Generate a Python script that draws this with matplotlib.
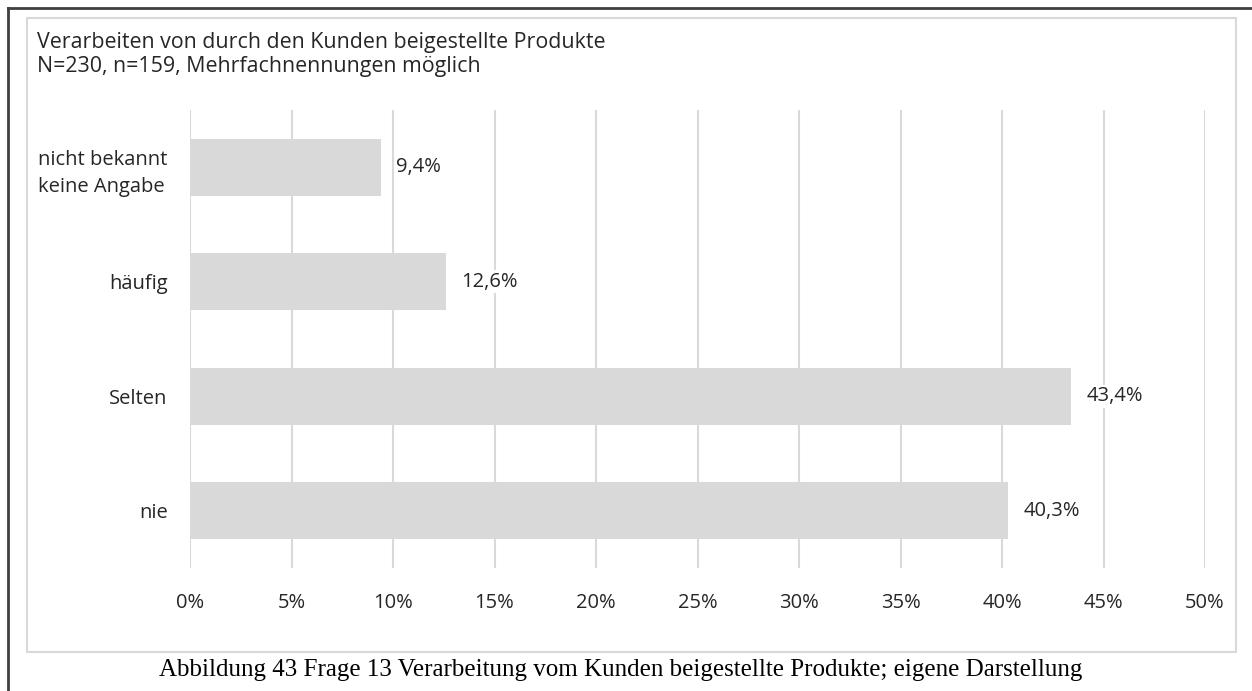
import matplotlib.pyplot as plt
from matplotlib.patches import Rectangle
from matplotlib.lines import Line2D
from matplotlib.ticker import MultipleLocator, FuncFormatter

# Antworten (von oben nach unten)
categories = ["nicht bekannt\nkeine Angabe", "häufig", "Selten", "nie"]
values = [9.4, 12.6, 43.4, 40.3]

title = "Verarbeiten von durch den Kunden beigestellte Produkte\nN=230, n=159, Mehrfachnennungen möglich"
caption = "Abbildung 43 Frage 13 Verarbeitung vom Kunden beigestellte Produkte; eigene Darstellung"

FONT = "Open Sans"
TXT = "#262626"

W, H = 1252, 691
fig = plt.figure(figsize=(W / 100, H / 100), dpi=100)
fig.patch.set_facecolor("white")

# Rahmen außen (Seite) und Diagrammrahmen
fig.add_artist(Line2D([8 / W, 8 / W], [0, 1 - 8 / H], color="#404040", lw=2))
fig.add_artist(Line2D([8 / W, 1], [1 - 8 / H, 1 - 8 / H], color="#404040", lw=2))
fig.add_artist(Rectangle((27 / W, 1 - 652 / H), (1236 - 27) / W, (652 - 18) / H,
                         fill=False, edgecolor="#d9d9d9", lw=1.5))

ax = fig.add_axes([190 / W, 1 - 568 / H, (1205 - 190) / W, (568 - 110) / H])

ypos = range(len(categories))
ax.barh(ypos, values, height=0.5, color="#d9d9d9", zorder=2)
ax.set_ylim(len(categories) - 0.5, -0.5)
ax.set_xlim(0, 50)
ax.xaxis.set_major_locator(MultipleLocator(5))
ax.xaxis.set_major_formatter(FuncFormatter(lambda v, p: f"{v:.0f}%"))
ax.grid(axis="x", color="#d9d9d9", lw=1.5, zorder=0)
for s in ax.spines.values():
    s.set_visible(False)
ax.tick_params(length=0, labelsize=14.5, colors=TXT)
ax.tick_params(axis="x", pad=18)
ax.tick_params(axis="y", pad=16)
ax.set_yticks(list(ypos))
ax.set_yticklabels(categories, ha="right", multialignment="left", linespacing=1.5)
for lab in ax.get_xticklabels() + ax.get_yticklabels():
    lab.set_family(FONT)

for y, v in zip(ypos, values):
    ax.text(v + 0.75, y, f"{v:.1f}%".replace(".", ","), va="center", ha="left",
            fontsize=14.5, family=FONT, color=TXT,
            bbox=dict(facecolor="white", edgecolor="none", pad=1), zorder=3)

fig.text(37 / W, 1 - 32 / H, title, ha="left", va="top", fontsize=15.4,
         family=FONT, color=TXT, linespacing=1.18)
fig.text(621 / W, 1 - 670 / H, caption, ha="center", va="center", fontsize=18,
         family="Liberation Serif", color="black")

fig.savefig("out.png", dpi=100, facecolor="white")
